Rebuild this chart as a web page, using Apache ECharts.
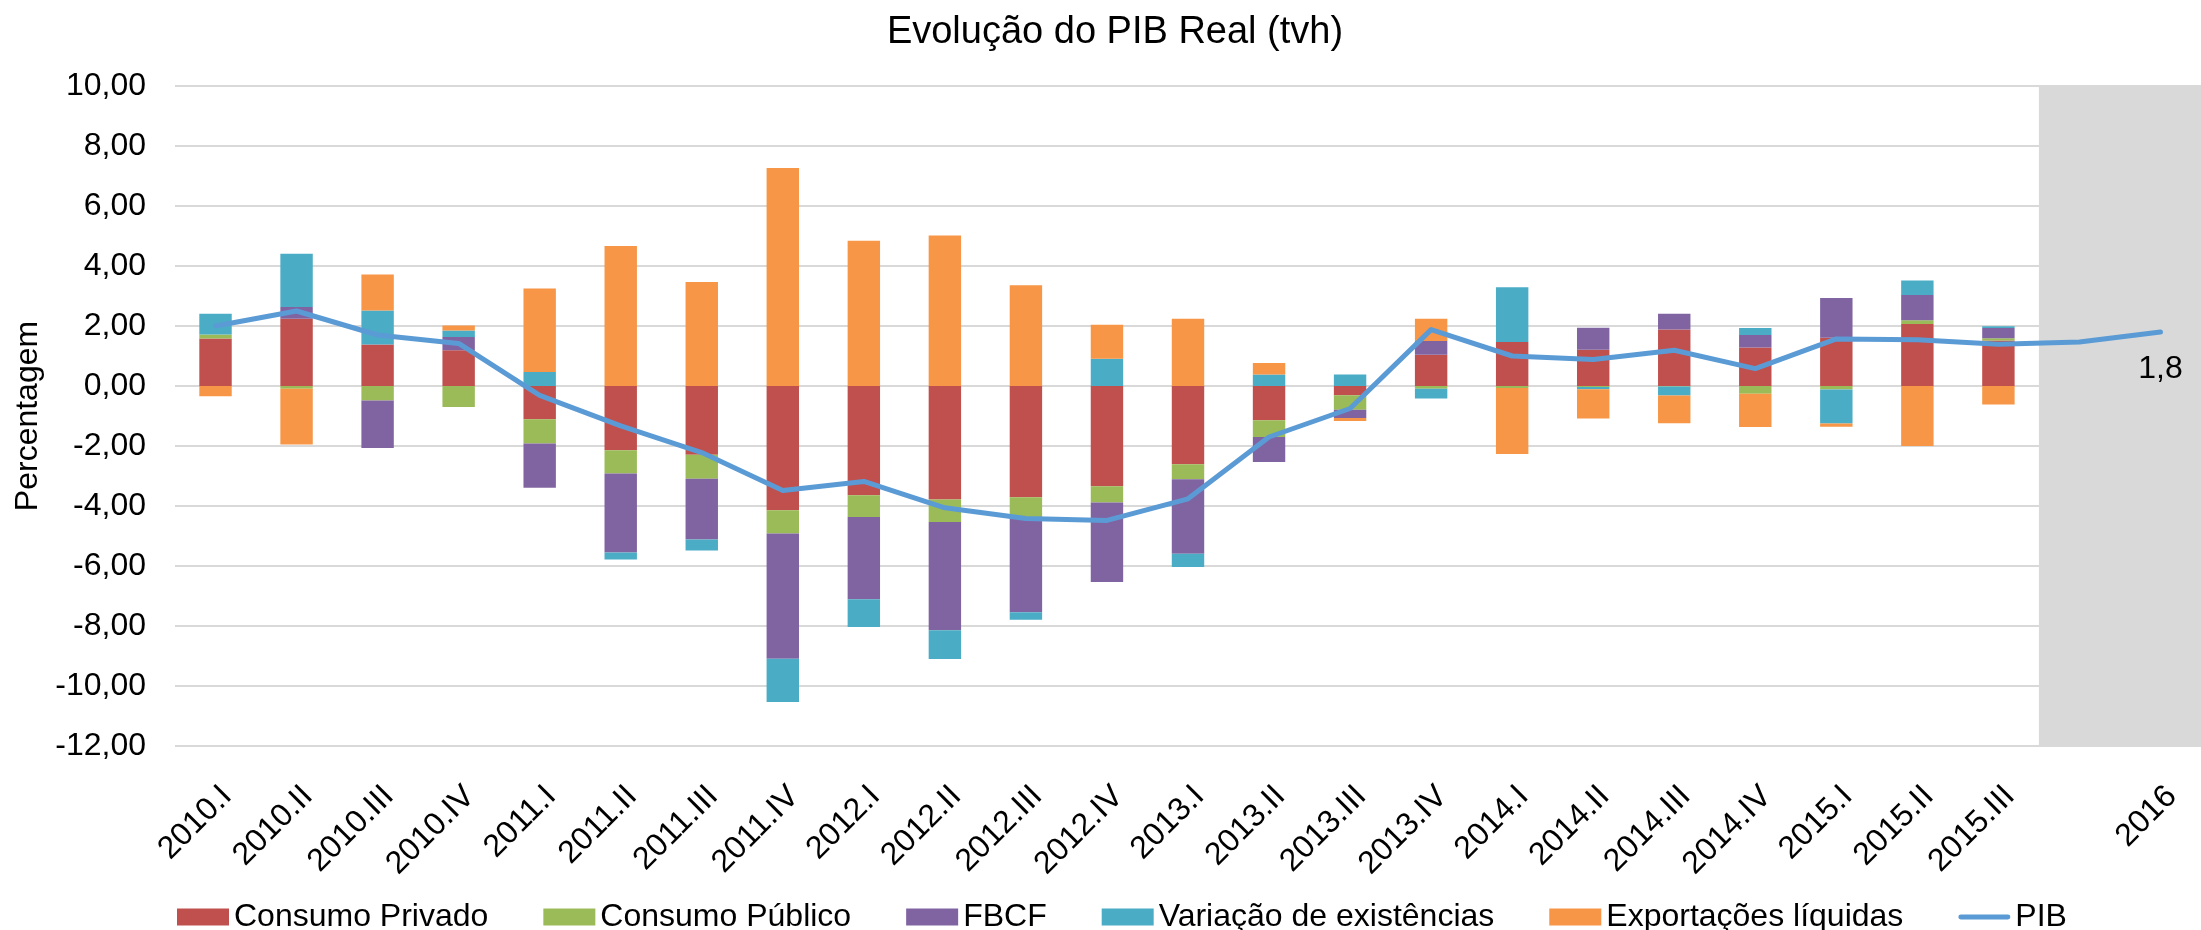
<!DOCTYPE html>
<html>
<head>
<meta charset="utf-8">
<title>Evolução do PIB Real (tvh)</title>
<script src="https://cdn.jsdelivr.net/npm/echarts@6/dist/echarts.min.js"></script>
<style>
    html, body { margin: 0; padding: 0; background: #fff; }
    #graficoPIB { width: 2201px; height: 930px; }
</style>
</head>
<body>
<div id="graficoPIB"></div>
<script>
// trimestres + projecao 2016 (categoria sem rotulo no meio)
const trimestres = [
    '2010.I', '2010.II', '2010.III', '2010.IV',
    '2011.I', '2011.II', '2011.III', '2011.IV',
    '2012.I', '2012.II', '2012.III', '2012.IV',
    '2013.I', '2013.II', '2013.III', '2013.IV',
    '2014.I', '2014.II', '2014.III', '2014.IV',
    '2015.I', '2015.II', '2015.III', '', '2016'
];

const consumoPrivado = [1.58, 2.24, 1.38, 1.19, -1.11, -2.14, -2.29, -4.14, -3.64, -3.78, -3.71, -3.34,
    -2.61, -1.14, -0.31, 1.04, 1.47, 1.21, 1.88, 1.28, 1.61, 2.07, 1.52, null, null];
const consumoPublico = [0.14, -0.09, -0.48, -0.70, -0.81, -0.78, -0.80, -0.78, -0.73, -0.75, -0.66, -0.54,
    -0.50, -0.56, -0.48, -0.09, -0.07, -0.03, -0.02, -0.26, -0.12, 0.12, 0.07, null, null];
const fbcf = [0, 0.39, -1.59, 0.44, -1.47, -2.63, -2.03, -4.17, -2.74, -3.61, -3.17, -2.65,
    -2.48, -0.83, -0.28, 0.46, 0, 0.73, 0.53, 0.42, 1.32, 0.84, 0.34, null, null];
const variacaoExistencias = [0.69, 1.78, 1.14, 0.22, 0.47, -0.23, -0.36, -1.44, -0.92, -0.96, -0.25, 0.91,
    -0.44, 0.38, 0.38, -0.33, 1.82, -0.08, -0.30, 0.23, -1.13, 0.49, 0.06, null, null];
const exportacoesLiquidas = [-0.34, -1.86, 1.20, 0.17, 2.78, 4.67, 3.47, 7.27, 4.84, 5.02, 3.36, 1.13,
    2.24, 0.39, -0.10, 0.74, -2.20, -0.97, -0.92, -1.11, -0.11, -2.00, -0.62, null, null];
const pib = [2.00, 2.50, 1.70, 1.42, -0.31, -1.33, -2.22, -3.48, -3.18, -4.06, -4.42, -4.48,
    -3.76, -1.70, -0.75, 1.88, 1.00, 0.88, 1.19, 0.58, 1.57, 1.54, 1.39, 1.47, 1.80];

// zona sombreada: desde a categoria 23 ate ao fim do eixo
const inicioProjecao = 23;

const fonte = '"Liberation Sans", Arial, sans-serif';
const virgula = (v, casas) => v.toFixed(casas).replace('.', ',');

const chartDom = document.getElementById('graficoPIB');
const myChart = echarts.init(chartDom);

const barra = (name, data, color) => ({
    name: name,
    type: 'bar',
    stack: 'pib',
    data: data,
    barWidth: '40%',
    itemStyle: { color: color },
    emphasis: { disabled: true },
    z: 3
});

const option = {
    animation: false,
    textStyle: { fontFamily: fonte },
    title: {
        text: 'Evolução do PIB Real (tvh)',
        left: 1110,
        textAlign: 'center',
        top: 9,
        textStyle: { fontSize: 38, fontWeight: 'normal', color: '#000', fontFamily: fonte }
    },
    legend: {
        left: 172,
        top: 896,
        itemGap: 55,
        itemWidth: 52,
        itemHeight: 17,
        textStyle: { fontSize: 32, color: '#000', fontFamily: fonte },
        data: [
            { name: 'Consumo Privado', icon: 'rect' },
            { name: 'Consumo Público', icon: 'rect' },
            { name: 'FBCF', icon: 'rect' },
            { name: 'Variação de existências', icon: 'rect' },
            { name: 'Exportações líquidas', icon: 'rect' },
            { name: 'PIB', icon: 'path://M2,0 L50,0 A2.5,2.5 0 0 1 50,5 L2,5 A2.5,2.5 0 0 1 2,0 Z' }
        ]
    },
    grid: {
        left: 175,
        top: 86,
        width: 2040,
        bottom: 184
    },
    xAxis: [
        {
            type: 'category',
            data: trimestres,
            axisLine: { show: false },
            axisTick: { show: false },
            axisLabel: {
                interval: 0,
                rotate: 45,
                margin: 34,
                verticalAlign: 'top',
                fontSize: 32,
                color: '#000',
                fontFamily: fonte
            }
        },
        {
            // eixo auxiliar so para posicionar a zona cinzenta
            type: 'value',
            min: 0,
            max: trimestres.length,
            show: false
        }
    ],
    yAxis: {
        type: 'value',
        min: -12,
        max: 10,
        interval: 2,
        name: 'Percentagem',
        nameLocation: 'middle',
        nameRotate: 90,
        nameGap: 130,
        nameTextStyle: { fontSize: 32, color: '#000', fontFamily: fonte },
        axisLine: { show: false },
        axisTick: { show: false },
        axisLabel: {
            margin: 29,
            fontSize: 32,
            color: '#000',
            fontFamily: fonte,
            formatter: (v) => virgula(v, 2)
        },
        splitLine: { lineStyle: { color: '#d9d9d9', width: 2 } }
    },
    series: [
        {
            name: 'projecao',
            type: 'line',
            xAxisIndex: 1,
            data: [],
            silent: true,
            z: 1,
            markArea: {
                silent: true,
                itemStyle: { color: '#d9d9d9' },
                data: [[{ xAxis: inicioProjecao }, { xAxis: trimestres.length }]]
            }
        },
        barra('Consumo Privado', consumoPrivado, '#C0504D'),
        barra('Consumo Público', consumoPublico, '#9BBB59'),
        barra('FBCF', fbcf, '#8064A2'),
        barra('Variação de existências', variacaoExistencias, '#4BACC6'),
        barra('Exportações líquidas', exportacoesLiquidas, '#F79646'),
        {
            name: 'PIB',
            type: 'line',
            data: pib.map((v, i) => i === pib.length - 1
                ? {
                    value: v,
                    symbol: 'circle',
                    symbolSize: 2,
                    label: {
                        show: true,
                        position: 'bottom',
                        distance: 20,
                        fontSize: 32,
                        color: '#000',
                        fontFamily: fonte,
                        formatter: (p) => virgula(p.value, 1)
                    }
                }
                : v),
            showSymbol: true,
            symbol: 'none',
            lineStyle: { color: '#5B9BD5', width: 5, cap: 'round', join: 'round' },
            itemStyle: { color: '#5B9BD5' },
            emphasis: { disabled: true },
            z: 5
        }
    ]
};

myChart.setOption(option);
</script>
</body>
</html>
